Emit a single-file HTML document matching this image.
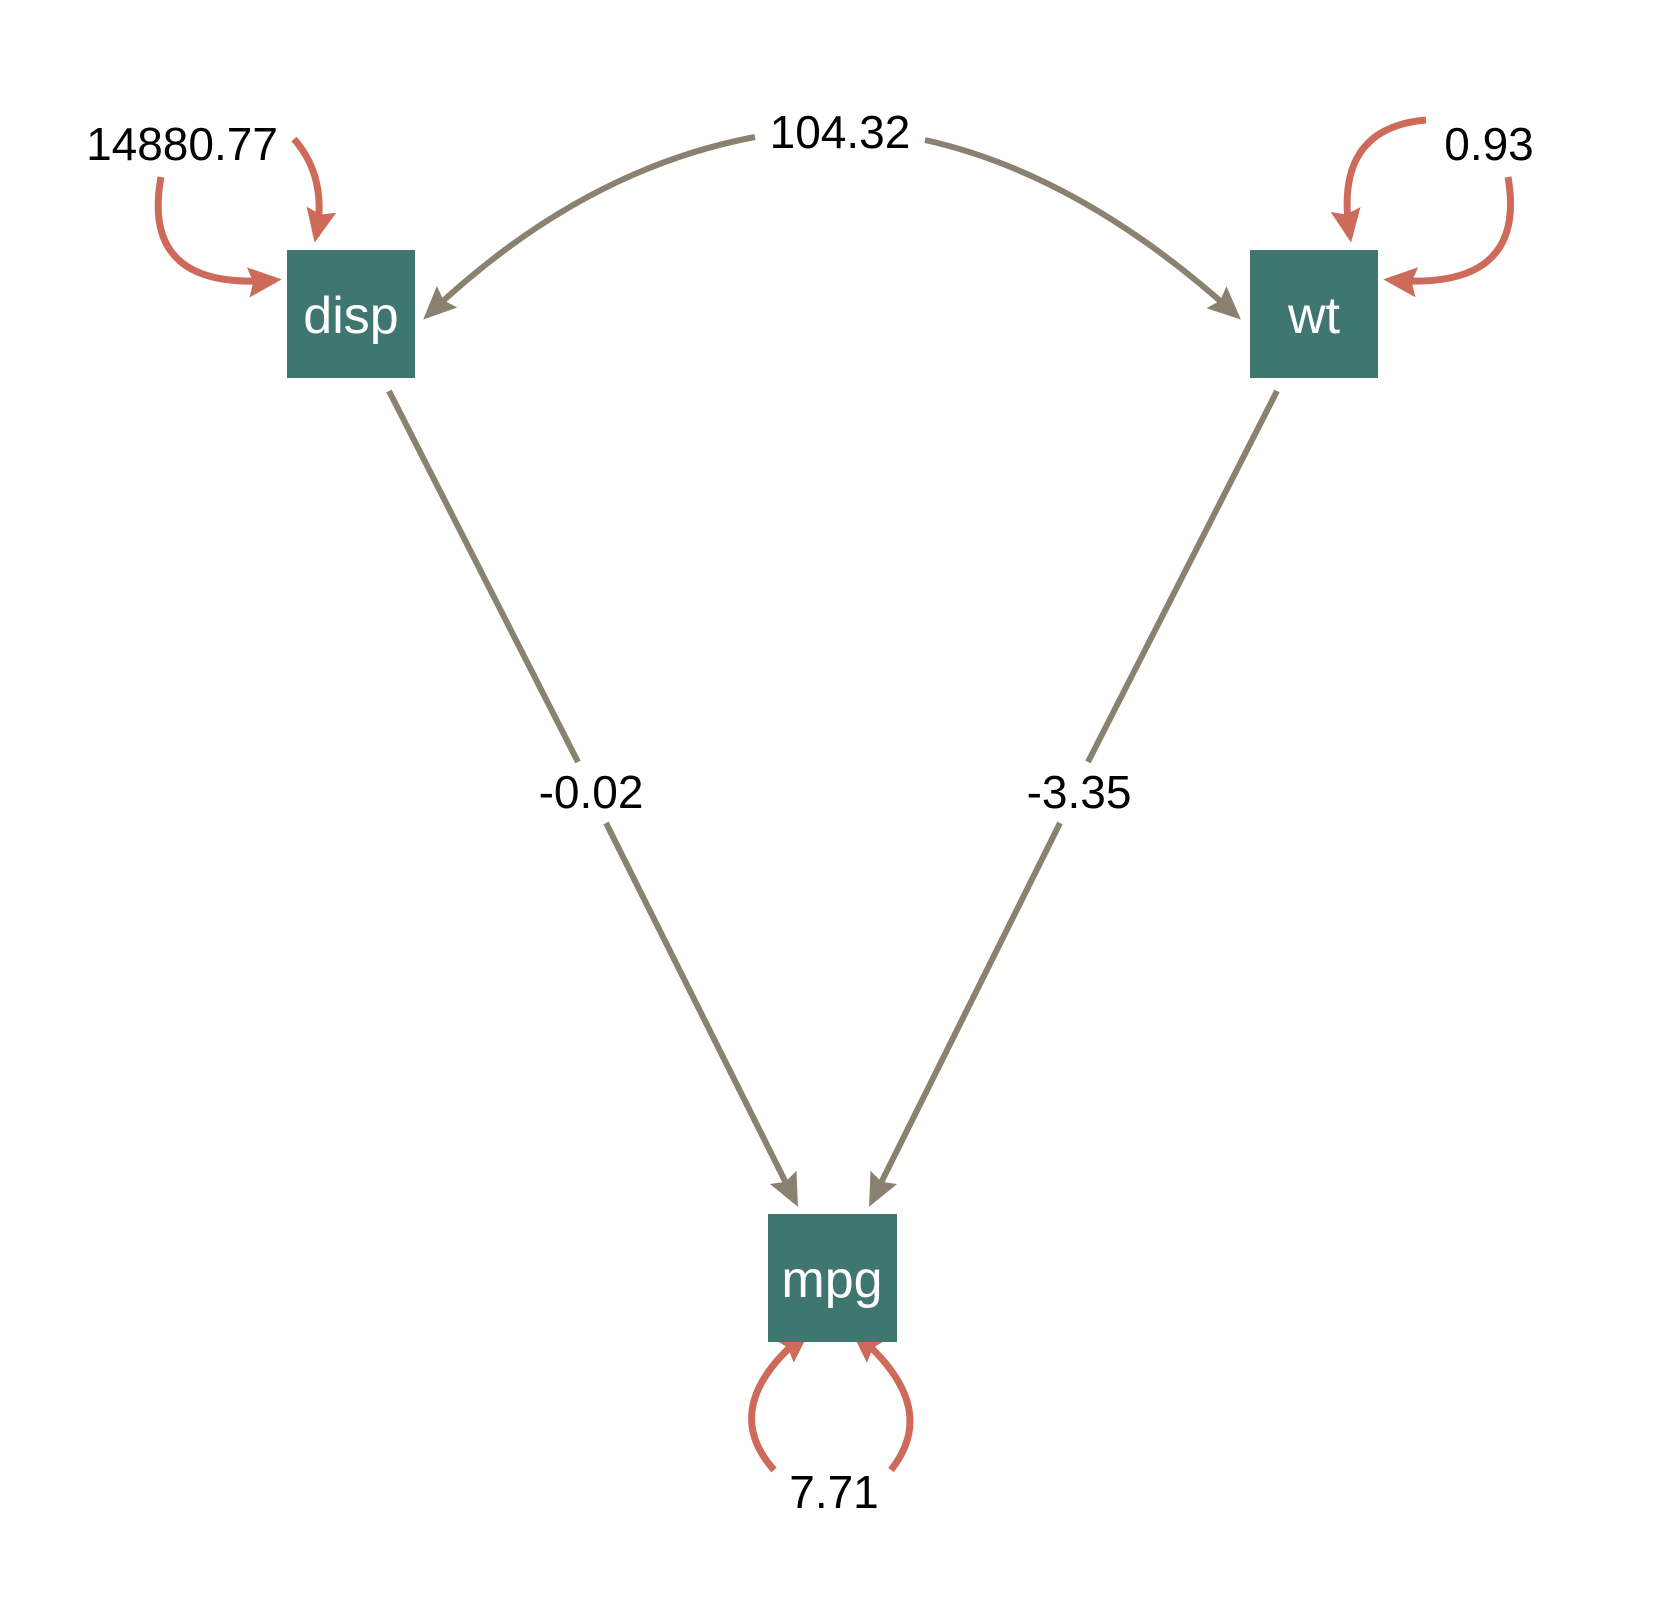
<!DOCTYPE html>
<html><head><meta charset="utf-8"><style>
html,body{margin:0;padding:0;background:#fff;}
svg{display:block;}
text{font-family:"Liberation Sans",Arial,sans-serif;}
</style></head><body>
<svg width="1669" height="1619" viewBox="0 0 1669 1619" xmlns="http://www.w3.org/2000/svg">
<defs>
<marker id="ag" viewBox="0 0 10 10" refX="8" refY="5" markerWidth="5.5" markerHeight="5.5" orient="auto" markerUnits="strokeWidth">
<path d="M0,0.5 L10,5 L0,9.5 L1.5,5 z" fill="#8a8170"/></marker>
<marker id="ar" viewBox="0 0 10 10" refX="8" refY="5" markerWidth="4.8" markerHeight="4.8" orient="auto" markerUnits="strokeWidth">
<path d="M0,0.5 L10,5 L0,9.5 L1.5,5 z" fill="#cd6a5a"/></marker>
</defs>
<g fill="none" stroke="#8a8170" stroke-width="6">
<path d="M755,137 Q580,170 428,315" marker-end="url(#ag)"/>
<path d="M925,140 Q1082,175 1236,315" marker-end="url(#ag)"/>
<path d="M389,391 L578,762" />
<path d="M606,823 L795,1201" marker-end="url(#ag)"/>
<path d="M1277,391 L1088,762" />
<path d="M1060,823 L872,1201" marker-end="url(#ag)"/>
</g>
<g fill="none" stroke="#cd6a5a" stroke-width="7">
<path d="M294,139 Q328,178 316,236" marker-end="url(#ar)"/>
<path d="M161,177 Q140,292 275,280" marker-end="url(#ar)"/>
<path d="M1426,120 Q1332,128 1350,236" marker-end="url(#ar)"/>
<path d="M1508,177 Q1528,292 1390,280" marker-end="url(#ar)"/>
<path d="M774,1470 Q717,1406 805,1334" marker-end="url(#ar)"/>
<path d="M891,1470 Q942,1406 856,1334" marker-end="url(#ar)"/>
</g>
<rect x="287" y="250" width="128" height="128" fill="#3f7670"/>
<rect x="1250" y="250" width="128" height="128" fill="#3f7670"/>
<rect x="768" y="1214" width="129" height="128" fill="#3f7670"/>
<g font-size="52" fill="#fff" text-anchor="middle">
<text x="351" y="333">disp</text>
<text x="1314" y="333">wt</text>
<text x="832" y="1297">mpg</text>
</g>
<g font-size="46" fill="#000" text-anchor="middle">
<text x="182" y="160">14880.77</text>
<text x="840" y="148">104.32</text>
<text x="1489" y="160">0.93</text>
<text x="591" y="808">-0.02</text>
<text x="1079" y="808">-3.35</text>
<text x="834" y="1508">7.71</text>
</g>
</svg>
</body></html>
